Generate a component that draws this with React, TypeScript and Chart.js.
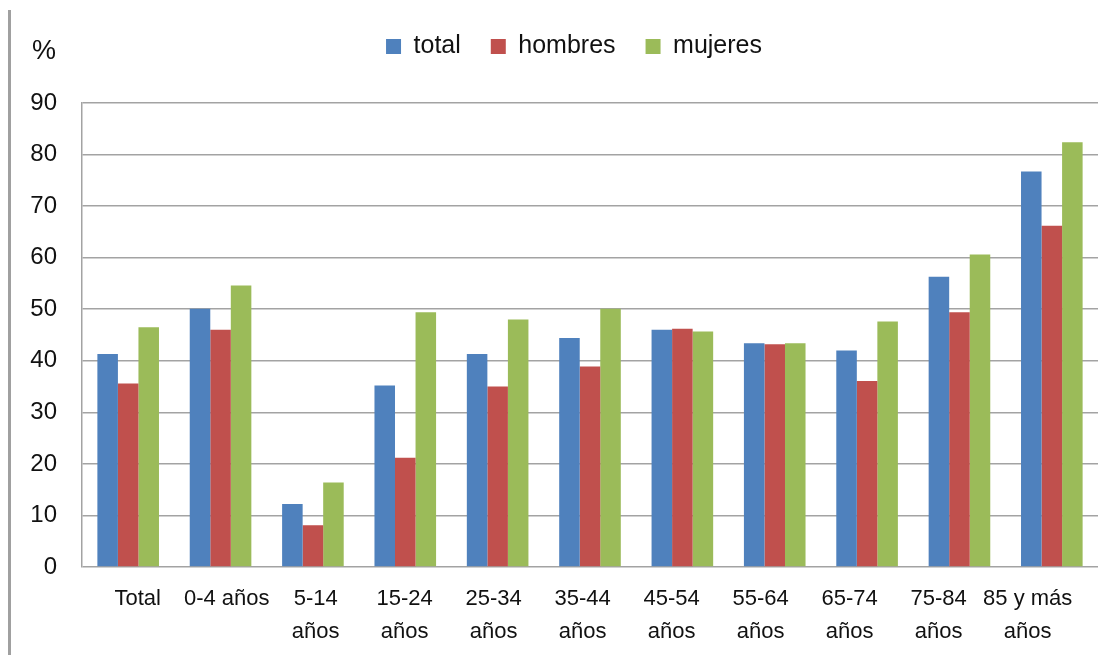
import React, { useEffect, useRef } from 'react';
import { Chart, registerables } from 'chart.js';

Chart.register(...registerables);

const categories = [
  'Total', '0-4 años', '5-14 años', '15-24 años', '25-34 años', '35-44 años',
  '45-54 años', '55-64 años', '65-74 años', '75-84 años', '85 y más años',
];
const tickLabels: (string | string[])[] = [
  'Total', '0-4 años', ['5-14', 'años'], ['15-24', 'años'], ['25-34', 'años'], ['35-44', 'años'],
  ['45-54', 'años'], ['55-64', 'años'], ['65-74', 'años'], ['75-84', 'años'], ['85 y más', 'años'],
];
const seriesNames = ['total', 'hombres', 'mujeres'];
const totalValues = [41.3, 50.1, 12.2, 35.2, 41.3, 44.4, 46.0, 43.4, 42.0, 56.3, 76.7];
const hombresValues = [35.6, 46.0, 8.1, 21.2, 35.0, 38.9, 46.2, 43.2, 36.1, 49.4, 66.2];
const mujeresValues = [46.5, 54.6, 16.4, 49.4, 48.0, 50.1, 45.7, 43.4, 47.6, 60.6, 82.4];
const yMin = 0;
const yMax = 90;
const yStep = 10;
const yUnit = '%';

const FONT = "'Liberation Sans', Arial, sans-serif";
const TEXT = '#111111';
const GRID = '#a3a3a3';

const decorPlugin = {
  id: 'decor',
  afterLayout(chart: any) {
    // the legend of the reference sits a little right of the page centre
    const lg = chart.legend;
    if (lg) {
      lg.left += 15;
      lg.right += 15;
    }
  },
  beforeDraw(chart: any) {
    const { ctx, height } = chart;
    ctx.save();
    ctx.fillStyle = '#a0a0a0';
    ctx.fillRect(8, 10, 3, height - 10);
    ctx.restore();
  },
  afterDraw(chart: any) {
    const { ctx } = chart;
    ctx.save();
    ctx.fillStyle = TEXT;
    ctx.font = `27px ${FONT}`;
    ctx.textAlign = 'center';
    ctx.textBaseline = 'middle';
    ctx.fillText(yUnit, 44, 52);
    ctx.restore();
  },
};

export default function App() {
  const ref = useRef<HTMLCanvasElement | null>(null);

  useEffect(() => {
    document.body.style.margin = '0';
    const canvas = ref.current;
    if (!canvas) return;
    const chart = new Chart(canvas, {
      type: 'bar',
      data: {
        labels: categories,
        datasets: [
          { label: seriesNames[0], data: totalValues, backgroundColor: '#4f81bd', borderWidth: 0 },
          { label: seriesNames[1], data: hombresValues, backgroundColor: '#c0504d', borderWidth: 0 },
          { label: seriesNames[2], data: mujeresValues, backgroundColor: '#9bbb59', borderWidth: 0 },
        ],
      },
      options: {
        responsive: false,
        animation: false,
        devicePixelRatio: 1,
        layout: { padding: { top: 4, left: 20, right: 16, bottom: 0 } },
        datasets: { bar: { categoryPercentage: 0.667, barPercentage: 1.0 } },
        plugins: {
          tooltip: { enabled: false },
          legend: {
            position: 'top',
            weight: 1000,
            labels: {
              boxWidth: 15,
              boxHeight: 15,
              padding: 30,
              color: TEXT,
              font: { family: FONT, size: 25 },
            },
          },
          title: {
            display: true,
            text: '',
            position: 'top',
            weight: 100,
            padding: 0,
            font: { size: 34, lineHeight: 1 },
          },
        },
        scales: {
          x: {
            type: 'category',
            display: false,
            offset: true,
            grid: { display: false },
          },
          xl: {
            type: 'linear',
            position: 'bottom',
            offset: false,
            min: -0.626,
            max: 10.79,
            grid: { display: false, drawTicks: false, offset: false },
            border: { display: false },
            afterBuildTicks: (scale: any) => {
              scale.ticks = categories.map((_, i) => ({ value: i }));
            },
            afterFit: (scale: any) => {
              scale.height = 88;
            },
            ticks: {
              autoSkip: false,
              maxRotation: 0,
              minRotation: 0,
              padding: 16,
              color: TEXT,
              font: { family: FONT, size: 22, lineHeight: 1.48 },
              callback: (v: any) => tickLabels[Math.round(Number(v))] ?? '',
            },
          },
          y: {
            type: 'linear',
            position: 'left',
            min: yMin,
            max: yMax,
            afterFit: (scale: any) => {
              scale.width = 62;
            },
            grid: { color: GRID, lineWidth: 1.5, drawTicks: false },
            border: { display: true, color: GRID, width: 1.5 },
            ticks: {
              stepSize: yStep,
              padding: 25,
              color: TEXT,
              font: { family: FONT, size: 24 },
            },
          },
        },
      },
      plugins: [decorPlugin],
    } as any);
    return () => chart.destroy();
  }, []);

  return (
    <div style={{ width: 1114, height: 655 }}>
      <canvas ref={ref} width={1114} height={655} style={{ display: 'block' }} />
    </div>
  );
}
